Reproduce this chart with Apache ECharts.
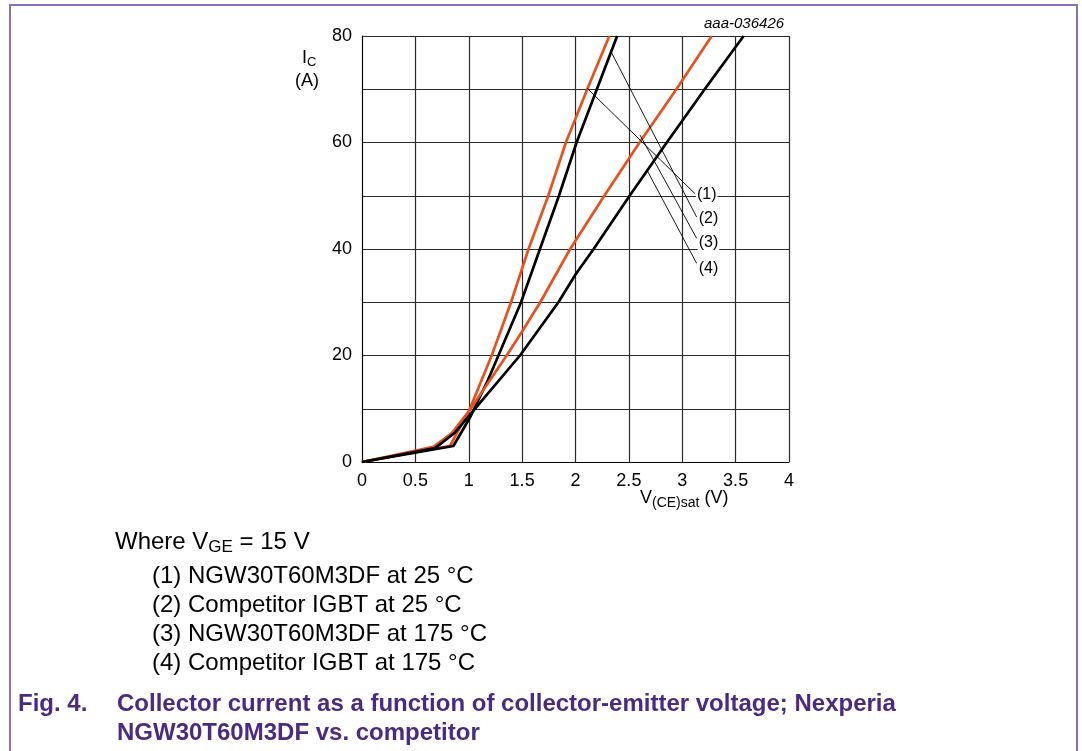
<!DOCTYPE html>
<html>
<head>
<meta charset="utf-8">
<script src="https://cdn.jsdelivr.net/npm/echarts@6/dist/echarts.min.js"></script>
<style>
html,body{margin:0;padding:0;background:#fff;}
#chart{width:1082px;height:751px;}
</style>
</head>
<body>
<div id="chart"></div>
<script>
// ---- data ----
var xTicks = [0, 0.5, 1, 1.5, 2, 2.5, 3, 3.5, 4];
var yTickLabels = [0, 20, 40, 60, 80];

// (1) NGW30T60M3DF at 25 °C
var ngw25V = [0, 0.825, 1.0, 1.215, 1.396, 1.56, 1.745, 1.91, 2.11, 2.317];
var ngw25I = [0, 3.05, 9.5, 20, 30, 40, 50, 60, 70, 80];
// (2) Competitor IGBT at 25 °C
var comp25V = [0, 0.856, 1.01, 1.18, 1.278, 1.49, 1.667, 1.845, 2.01, 2.2, 2.39];
var comp25I = [0, 3.0, 8.3, 15.4, 20, 30, 40, 50, 60, 70, 80];
// (3) NGW30T60M3DF at 175 °C
var ngw175V = [0, 0.668, 0.84, 1.0, 1.355, 1.5, 1.67, 1.95, 2.27, 2.6, 2.945, 3.276];
var ngw175I = [0, 2.85, 5.4, 9.5, 20, 24.5, 30, 40, 50, 60, 70, 80];
// (4) Competitor IGBT at 175 °C
var comp175V = [0, 0.684, 0.87, 1.03, 1.48, 1.84, 2.0, 2.17, 2.507, 2.855, 3.21, 3.575];
var comp175I = [0, 2.6, 5.5, 9.3, 20, 30, 35.2, 40, 50, 60, 70, 80];

// callouts: anchor on curve -> label point (data units)
var calloutNames = ['(1)', '(2)', '(3)', '(4)'];
var calloutFromV = [2.108, 2.339, 2.604, 2.67];
var calloutFromI = [70.2, 76.8, 61.4, 54.8];
var calloutToV = [3.119, 3.135, 3.135, 3.135];
var calloutToI = [50.4, 46.0, 42.0, 37.3];

var legendLines = [
  '(1) NGW30T60M3DF at 25 °C',
  '(2) Competitor IGBT at 25 °C',
  '(3) NGW30T60M3DF at 175 °C',
  '(4) Competitor IGBT at 175 °C'
];

// ---- build ----
function zip(a, b) { return a.map(function (v, i) { return [v, b[i]]; }); }
var FONT = '"Liberation Sans", Arial, Helvetica, sans-serif';
var ORANGE = '#e8501e';
var PURPLE_DARK = '#4b2a82';
var PURPLE_LINE = '#8d6fb6';
var labelDy = [1, 2, 4, 5];

var curveSeries = [
  { data: zip(ngw25V, ngw25I), color: ORANGE },
  { data: zip(comp25V, comp25I), color: '#000' },
  { data: zip(ngw175V, ngw175I), color: ORANGE },
  { data: zip(comp175V, comp175I), color: '#000' }
].map(function (s, i) {
  return {
    type: 'line', name: 'c' + i, data: s.data, showSymbol: false, symbol: 'none',
    lineStyle: { color: s.color, width: 2.7 }, z: 5, silent: true
  };
});

var calloutSeries = calloutNames.map(function (n, i) {
  return {
    type: 'line', name: n, showSymbol: false, symbol: 'none', silent: true, z: 6,
    data: [[calloutFromV[i], calloutFromI[i]], [calloutToV[i], calloutToI[i]]],
    lineStyle: { color: '#000', width: 0.9 },
    endLabel: {
      show: true, formatter: n, fontFamily: FONT, fontSize: 16, color: '#000',
      backgroundColor: '#fff', padding: [1, 1, 1, 1], distance: 1, offset: [0, labelDy[i]]
    }
  };
});

var chart = echarts.init(document.getElementById('chart'), null, { renderer: 'canvas' });
chart.setOption({
  animation: false,
  backgroundColor: '#fff',
  grid: { left: 362, top: 36, width: 427, height: 426, containLabel: false },
  xAxis: {
    type: 'value', min: 0, max: 4, interval: 0.5,
    axisLine: { show: true, lineStyle: { color: '#000', width: 1 } },
    axisTick: { show: false },
    splitLine: { show: true, lineStyle: { color: '#2a2a2a', width: 1.2 } },
    axisLabel: {
      color: '#000', fontSize: 18, fontFamily: FONT, margin: 10,
      formatter: function (v) { return xTicks.indexOf(v) >= 0 ? String(v) : ''; }
    }
  },
  yAxis: {
    type: 'value', min: 0, max: 80, interval: 10,
    axisLine: { show: true, lineStyle: { color: '#000', width: 1 } },
    axisTick: { show: false },
    splitLine: { show: true, lineStyle: { color: '#2a2a2a', width: 1.2 } },
    axisLabel: {
      color: '#000', fontSize: 18, fontFamily: FONT, margin: 10,
      formatter: function (v) { return yTickLabels.indexOf(v) >= 0 ? String(v) : ''; }
    }
  },
  series: curveSeries.concat(calloutSeries),
  graphic: [
    { type: 'polyline', silent: true, shape: { points: [[10, 751], [10, 5], [1077, 5], [1077, 751]] },
      style: { stroke: PURPLE_LINE, lineWidth: 2, fill: null } },
    { type: 'text', left: 704, top: 16, silent: true,
      style: { text: 'aaa-036426', font: 'italic 15px ' + FONT, fill: '#000' } },
    { type: 'text', left: 302, top: 49, silent: true,
      style: { text: 'I{s|C}', font: '18px ' + FONT, fill: '#000',
        rich: { s: { fontSize: 13, fontFamily: FONT, padding: [9, 0, 0, 0] } } } },
    { type: 'text', left: 295, top: 72, silent: true,
      style: { text: '(A)', font: '18px ' + FONT, fill: '#000' } },
    { type: 'text', left: 640, top: 489, silent: true,
      style: { text: 'V{s|(CE)sat} (V)', font: '18px ' + FONT, fill: '#000',
        rich: { s: { fontSize: 14, fontFamily: FONT, padding: [10, 0, 0, 0] } } } },
    { type: 'text', left: 115, top: 530, silent: true,
      style: { text: 'Where V{s|GE} = 15 V', font: '24px ' + FONT, fill: '#000',
        rich: { s: { fontSize: 17, fontFamily: FONT, padding: [11, 0, 0, 0] } } } },
    { type: 'text', left: 152, top: 564, silent: true,
      style: { text: legendLines[0], font: '24px ' + FONT, fill: '#000' } },
    { type: 'text', left: 152, top: 593, silent: true,
      style: { text: legendLines[1], font: '24px ' + FONT, fill: '#000' } },
    { type: 'text', left: 152, top: 622, silent: true,
      style: { text: legendLines[2], font: '24px ' + FONT, fill: '#000' } },
    { type: 'text', left: 152, top: 651, silent: true,
      style: { text: legendLines[3], font: '24px ' + FONT, fill: '#000' } },
    { type: 'text', left: 18, top: 692, silent: true,
      style: { text: 'Fig. 4.', font: 'bold 24px ' + FONT, fill: PURPLE_DARK } },
    { type: 'text', left: 117, top: 692, silent: true,
      style: { text: 'Collector current as a function of collector-emitter voltage; Nexperia', font: 'bold 24px ' + FONT, fill: PURPLE_DARK } },
    { type: 'text', left: 117, top: 721, silent: true,
      style: { text: 'NGW30T60M3DF vs. competitor', font: 'bold 24px ' + FONT, fill: PURPLE_DARK } }
  ]
});
</script>
</body>
</html>
